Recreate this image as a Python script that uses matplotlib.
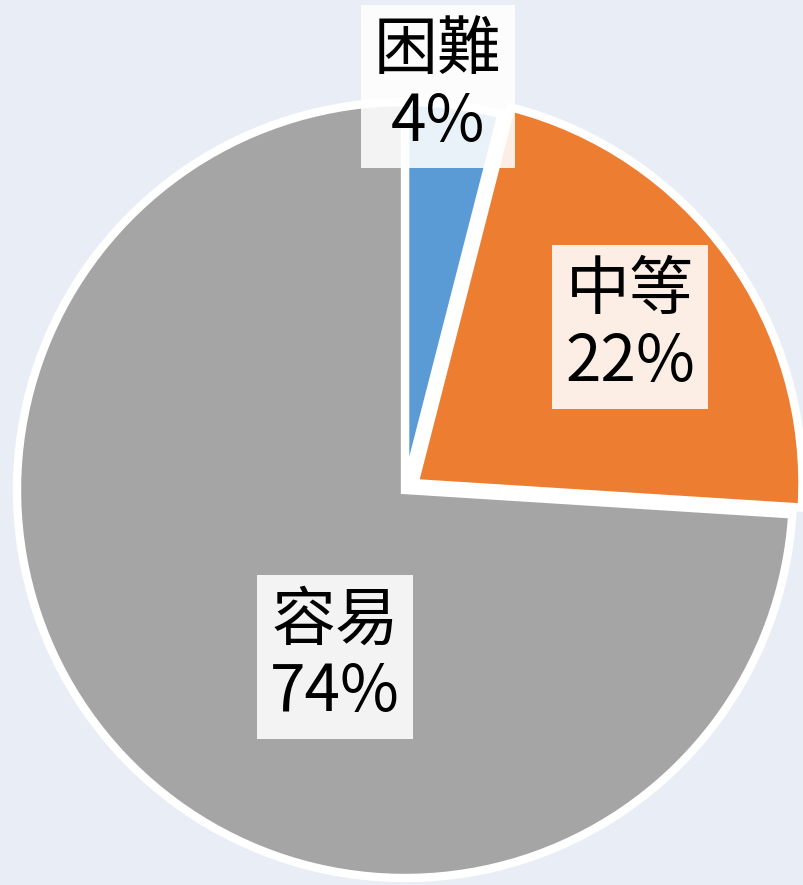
import matplotlib.pyplot as plt

plt.rcParams['font.family'] = ['Noto Sans CJK TC', 'DejaVu Sans']

labels = ["困難", "中等", "容易"]
shares = [4, 22, 74]
colors = ["#5B9BD5", "#ED7D31", "#A5A5A5"]
explode = [0, 0.03, 0]
# label box centres in data units (pie radius = 1)
label_pos = [(0.085, 1.04), (0.58, 0.42), (-0.18, -0.43)]

fig = plt.figure(figsize=(8.04, 8.85), dpi=100)
fig.patch.set_facecolor("#e9edf6")

ax = fig.add_axes([17 / 804, 7 / 885, 776 / 804, 776 / 885])
ax.set_facecolor("none")

wedges, _ = ax.pie(shares, colors=colors, explode=explode, startangle=90,
                   counterclock=False, radius=1.0,
                   wedgeprops={"edgecolor": "white", "linewidth": 6})

for lab, val, (x, y) in zip(labels, shares, label_pos):
    ax.text(x, y, f"{lab}\n{val}%", ha="center", va="center", fontsize=46,
            fontweight="light", linespacing=1.1, color="black",
            bbox=dict(boxstyle="square,pad=0.2", facecolor="white",
                      edgecolor="none", alpha=0.88), zorder=5)

ax.set_xlim(-1, 1)
ax.set_ylim(-1, 1)
ax.set_aspect("equal")
ax.axis("off")

fig.savefig("out.png", dpi=100, facecolor=fig.get_facecolor())
